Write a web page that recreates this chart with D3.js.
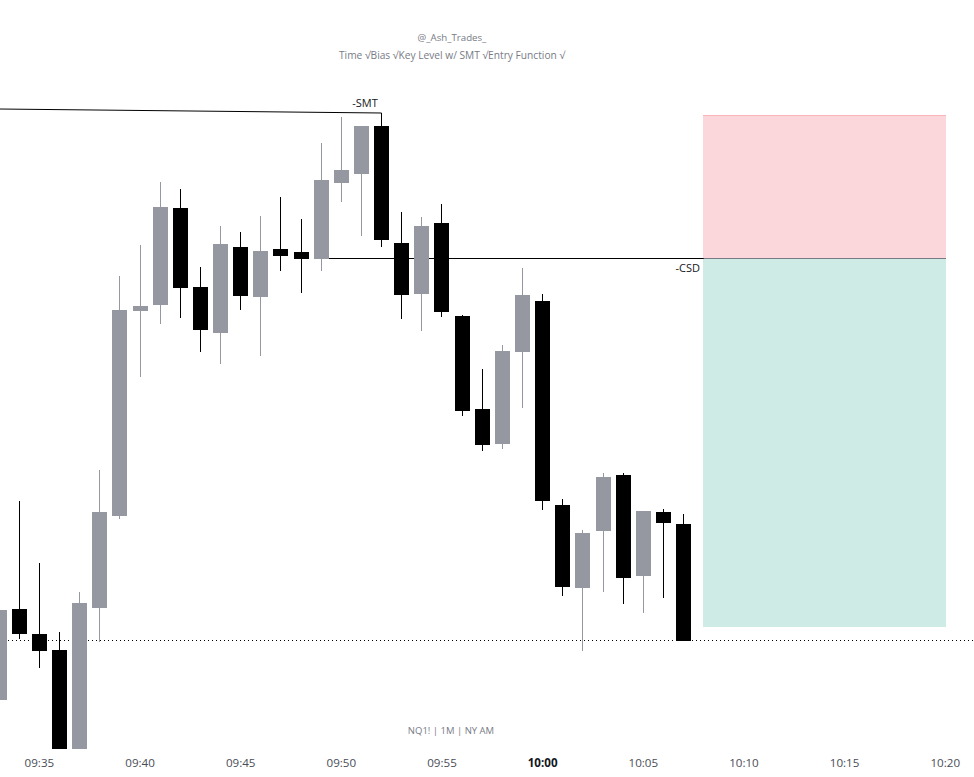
<!DOCTYPE html>
<html>
<head>
<meta charset="utf-8">
<script src="https://cdn.jsdelivr.net/npm/d3@7/dist/d3.min.js"></script>
<style>
  html, body { margin: 0; padding: 0; background: #fff; overflow: hidden; }
  text { font-family: "Open Sans", "Noto Sans", sans-serif; }
</style>
</head>
<body>
<div id="chart"></div>
<script>
// minutes after 09:00, one candle per minute
var minutes = [33,34,35,36,37,38,39,40,41,42,43,44,45,46,47,48,49,50,51,52,53,54,55,56,57,58,59,60,61,62,63,64,65,66,67];
var opens = [17970.5,18016,18003.5,17995.5,17925.5,18016.5,18062.5,18165,18168,18216.5,18177,18154,18197,18172,18196,18194.5,18191,18229,18233.5,18257.5,18199,18173.5,18209,18162.5,18116,18098.5,18144.5,18170,18068,18026.5,18055,18083,18032.5,18064.5,18058.5];
var highs = [18015.5,18070,18039,18004.5,18024.5,18085.5,18182.5,18198,18229.5,18226,18187,18207.5,18204.5,18212.5,18222,18211,18249,18262,18257.5,18264,18214.5,18212,18218.5,18163,18136,18148,18186.5,18173.5,18071,18055.5,18084,18084,18065,18066,18063.5];
var lows = [17970.5,18001,17986.5,17920.5,17923,17999.5,18061,18132,18158.5,18161.5,18144.5,18138.5,18165.5,18142.5,18185,18174,18185,18219.5,18202.5,18197,18161,18155,18162,18112.5,18095,18096,18116.5,18065.5,18022.5,17995,18024.5,18018.5,18014,18021.5,18000];
var closes = [18015.5,18003.5,17995,17925.5,18019,18064.5,18165.5,18167.5,18217,18176.5,18155.5,18198.5,18172.5,18195,18192.5,18191,18230.5,18235.5,18257.5,18200.5,18173,18207.5,18164.5,18115,18098,18145,18173,18070,18027,18054,18082,18031.5,18065,18059,18000];

var tickMinutes = [35,40,45,50,55,60,65,70,75,80];

var smtLevel = {from: 33, to: 52, start: 18266, end: 18264};
var csdLevel = {from: 49, to: 68, price: 18191.25};
var lastClose = 18000;

var boxFrom = 68, boxTo = 80;
var boxTop = 18262.5, boxMid = 18191.25, boxBottom = 18007;

var width = 974, height = 777;
var plotBottom = 749;

var toDate = m => new Date(2024, 0, 2, 9, m);

var x = d3.scaleTime()
    .domain([toDate(34), toDate(80)])
    .range([19.25, 945.23]);

// 2px for one point of price
var y = d3.scaleLinear()
    .domain([18000, 18320.5])
    .range([641, 0]);

var svg = d3.select('#chart').append('svg')
    .attr('width', width)
    .attr('height', height)
    .style('display', 'block');

svg.append('clipPath')
    .attr('id', 'plot')
    .append('rect')
    .attr('width', width)
    .attr('height', plotBottom);

var plot = svg.append('g').attr('clip-path', 'url(#plot)');

// snap to the pixel grid so the wicks stay one pixel wide
var cx = m => Math.floor(x(toDate(m))) + 0.5;
var snap = p => Math.floor(y(p)) + 0.5;

// long / short position box
var boxX = Math.floor(x(toDate(boxFrom)));
var boxW = Math.ceil(x(toDate(boxTo))) - boxX;

plot.append('rect')
    .attr('x', boxX).attr('y', y(boxTop))
    .attr('width', boxW).attr('height', y(boxMid) - y(boxTop))
    .attr('fill', '#fbd6da');
plot.append('rect')
    .attr('x', boxX).attr('y', y(boxMid))
    .attr('width', boxW).attr('height', y(boxBottom) - y(boxMid))
    .attr('fill', '#cfebe5');
plot.append('line')
    .attr('x1', boxX).attr('x2', boxX + boxW)
    .attr('y1', snap(boxTop)).attr('y2', snap(boxTop))
    .attr('stroke', '#fbb5ba');
plot.append('line')
    .attr('x1', boxX).attr('x2', boxX + boxW)
    .attr('y1', snap(boxMid)).attr('y2', snap(boxMid))
    .attr('stroke', '#787b86');

// last price
plot.append('line')
    .attr('x1', 0).attr('x2', width)
    .attr('y1', snap(lastClose) - 1).attr('y2', snap(lastClose) - 1)
    .attr('stroke', '#000')
    .attr('stroke-dasharray', '1,3');

// swing levels
plot.append('line')
    .attr('x1', cx(csdLevel.from)).attr('x2', x(toDate(csdLevel.to)))
    .attr('y1', snap(csdLevel.price)).attr('y2', snap(csdLevel.price))
    .attr('stroke', '#000');
plot.append('line')
    .attr('x1', x(toDate(smtLevel.from))).attr('x2', cx(smtLevel.to))
    .attr('y1', y(smtLevel.start)).attr('y2', y(smtLevel.end))
    .attr('stroke', '#000');

var candles = minutes.map((m, i) => ({m: m, o: opens[i], h: highs[i], l: lows[i], c: closes[i]}));
var color = d => d.c >= d.o ? '#9598a1' : '#000';

plot.selectAll('.wick')
    .data(candles)
    .enter()
    .append('line')
    .attr('class', 'wick')
    .attr('x1', d => cx(d.m))
    .attr('x2', d => cx(d.m))
    .attr('y1', d => y(d.h))
    .attr('y2', d => y(d.l))
    .attr('stroke', color);

plot.selectAll('.body')
    .data(candles)
    .enter()
    .append('rect')
    .attr('class', 'body')
    .attr('x', d => cx(d.m) - 7.5)
    .attr('y', d => y(Math.max(d.o, d.c)))
    .attr('width', 15)
    .attr('height', d => Math.abs(y(d.o) - y(d.c)))
    .attr('fill', color);

// time axis
var xAxis = d3.axisBottom(x)
    .tickValues(tickMinutes.map(toDate))
    .tickFormat(d3.timeFormat('%H:%M'))
    .tickSize(0)
    .tickPadding(0);

var axis = svg.append('g')
    .attr('transform', `translate(-0.5,${plotBottom})`)
    .call(xAxis);

var isTen = d => d.getHours() === 10 && d.getMinutes() === 0;

axis.select('.domain').remove();
axis.selectAll('text')
    .attr('y', 9.5)
    .attr('font-size', 11.6)
    .style('font-family', '"Open Sans", sans-serif')
    .attr('font-weight', d => isTen(d) ? 700 : 400)
    .style('fill', d => isTen(d) ? '#131722' : '#4a4d57');

// labels
function label(txt, px, py, size, fill, anchor) {
    svg.append('text')
        .attr('x', px)
        .attr('y', py)
        .attr('font-size', size)
        .attr('fill', fill)
        .attr('text-anchor', anchor || 'middle')
        .text(txt);
}

label('@_Ash_Trades_', 452, 41, 9.7, '#787b86');
label('Time √Bias √Key Level w/ SMT √Entry Function √', 452, 59, 10.2, '#787b86');
label('-SMT', 365, 107, 11, '#131722');
label('-CSD', 700, 272, 11, '#131722', 'end');
label('NQ1! | 1M | NY AM', 451, 734, 9.5, '#787b86');
</script>
</body>
</html>
